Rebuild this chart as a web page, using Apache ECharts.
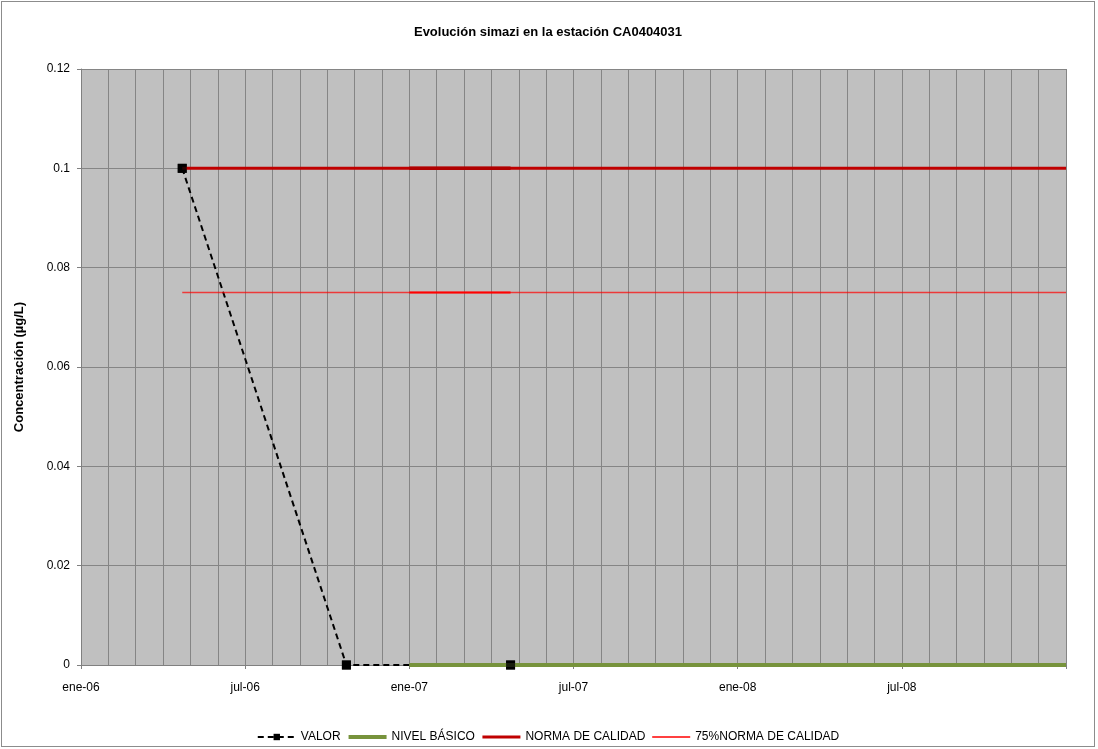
<!DOCTYPE html>
<html>
<head>
<meta charset="utf-8">
<script src="https://cdn.jsdelivr.net/npm/echarts@6/dist/echarts.min.js"></script>
<style>
  html, body { margin: 0; padding: 0; background: #fff; }
  #chart { position: absolute; left: 1px; top: 1px; width: 1094px; height: 746px; border: 1px solid #8c8c8c; box-sizing: border-box; }
</style>
</head>
<body>
<div id="chart"></div>
<script>
// x values are months counted from ene-06 (0 = 1 Jan 2006)
const monthNames = ['ene', 'feb', 'mar', 'abr', 'may', 'jun', 'jul', 'ago', 'sep', 'oct', 'nov', 'dic'];
const valorX = [3.7, 9.7, 15.7];
const valorY = [0.1, 0, 0];
const nivelX = [12, 36];
const nivelY = [0, 0];
const normaX = [3.7, 36];
const normaY = [0.1, 0.1];
const overlapX = [12, 15.7];
const norma75Y = [0.075, 0.075];

const pairs = (xs, ys) => xs.map((x, i) => [x, ys[i]]);

const chart = echarts.init(document.getElementById('chart'));
const font = 'Liberation Sans, Arial, sans-serif';
const noMarker = { opacity: 0 };

chart.setOption({
    animation: false,
    title: {
        text: 'Evolución simazi en la estación CA0404031',
        left: 'center', top: 19,
        textStyle: { fontFamily: font, fontSize: 13, fontWeight: 'bold', color: '#000' }
    },
    grid: { left: 79, right: 28, top: 67, bottom: 81, show: true, backgroundColor: '#c0c0c0', borderWidth: 0 },
    legend: {
        top: 724, left: 'center', itemWidth: 38, itemHeight: 8, itemGap: 6,
        textStyle: { fontFamily: font, fontSize: 12, color: '#000' },
        data: [
            { name: 'VALOR', lineStyle: { width: 2 } },
            { name: 'NIVEL BÁSICO', itemStyle: noMarker, lineStyle: { width: 4 } },
            { name: 'NORMA DE CALIDAD', itemStyle: noMarker, lineStyle: { width: 3 } },
            { name: '75%NORMA DE CALIDAD', itemStyle: noMarker, lineStyle: { width: 1.5, opacity: 1 } }
        ]
    },
    xAxis: {
        type: 'value', min: 0, max: 36, interval: 6,
        axisLine: { lineStyle: { color: '#808080' } },
        axisTick: { length: 4, lineStyle: { color: '#808080' } },
        axisLabel: {
            fontFamily: font, fontSize: 12, color: '#000', margin: 17,
            formatter: v => v >= 36 ? '' : monthNames[v % 12] + '-' + String(6 + Math.floor(v / 12)).padStart(2, '0')
        },
        splitLine: { show: true, lineStyle: { color: '#858585', width: 1 } },
        minorTick: { show: false, splitNumber: 6 },
        minorSplitLine: { show: true, lineStyle: { color: '#858585', width: 1 } }
    },
    yAxis: {
        type: 'value', min: 0, max: 0.12, interval: 0.02,
        name: 'Concentración (µg/L)', nameLocation: 'middle', nameGap: 55,
        nameTextStyle: { fontFamily: font, fontSize: 13, fontWeight: 'bold', color: '#000' },
        axisLine: { show: true, lineStyle: { color: '#808080' } },
        axisTick: { show: true, length: 4, lineStyle: { color: '#808080' } },
        axisLabel: { fontFamily: font, fontSize: 12, color: '#000', margin: 11 },
        splitLine: { lineStyle: { color: '#858585', width: 1 } }
    },
    series: [
        {
            name: 'VALOR', type: 'line', z: 2, clip: false,
            data: pairs(valorX, valorY),
            symbol: 'rect', symbolSize: 9,
            itemStyle: { color: '#000' },
            lineStyle: { color: '#000', width: 2, type: [6, 4] }
        },
        {
            name: 'NIVEL BÁSICO', type: 'line', z: 3, symbol: 'none', clip: false,
            data: pairs(nivelX, nivelY),
            lineStyle: { color: '#77933c', width: 4 }, itemStyle: { color: '#77933c' }
        },
        {
            name: 'NORMA DE CALIDAD', type: 'line', z: 3, symbol: 'none',
            data: pairs(normaX, normaY),
            lineStyle: { color: '#c00000', width: 3 }, itemStyle: { color: '#c00000' }
        },
        {
            name: 'NORMA DE CALIDAD', type: 'line', z: 3, symbol: 'none',
            data: pairs(overlapX, normaY),
            lineStyle: { color: '#b00000', width: 3.5 }, itemStyle: { color: '#c00000' }
        },
        {
            name: '75%NORMA DE CALIDAD', type: 'line', z: 3, symbol: 'none',
            data: pairs(normaX, norma75Y),
            lineStyle: { color: '#ff0000', width: 1.5, opacity: 0.7 }, itemStyle: { color: '#ff0000' }
        },
        {
            name: '75%NORMA DE CALIDAD', type: 'line', z: 3, symbol: 'none',
            data: pairs(overlapX, norma75Y),
            lineStyle: { color: '#ff0000', width: 2 }, itemStyle: { color: '#ff0000' }
        },
        {
            name: 'VALOR', type: 'scatter', z: 4, clip: false,
            data: pairs(valorX, valorY),
            symbol: 'rect', symbolSize: 9,
            itemStyle: { color: '#000' }
        }
    ]
});
</script>
</body>
</html>
